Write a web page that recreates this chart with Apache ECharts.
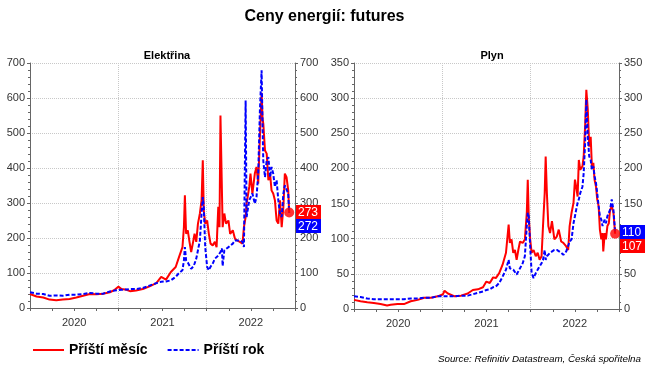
<!DOCTYPE html>
<html>
<head>
<meta charset="utf-8">
<script src="https://cdn.jsdelivr.net/npm/echarts@6/dist/echarts.min.js"></script>
<style>html,body{margin:0;padding:0;background:#fff}#c{width:649px;height:365px}</style>
</head>
<body>
<div id="c"></div>
<script>
// ---------- DATA ----------
const yearLabels = ['2020', '2021', '2022'];

const elecDates = ['2020-01-01','2020-01-28','2020-02-25','2020-03-22','2020-04-19','2020-05-16','2020-06-13','2020-07-11','2020-08-08','2020-09-05','2020-10-02','2020-10-30','2020-11-27','2020-12-17','2021-01-01','2021-01-14','2021-02-04','2021-02-18','2021-03-15','2021-04-12','2021-05-10','2021-06-07','2021-06-27','2021-07-17','2021-08-06','2021-08-26','2021-09-09','2021-09-23','2021-09-29','2021-10-03','2021-10-08','2021-10-15','2021-10-22','2021-10-29','2021-11-06','2021-11-12','2021-11-19','2021-11-26','2021-12-04','2021-12-11','2021-12-16','2021-12-20','2021-12-26','2022-01-03','2022-01-10','2022-01-17','2022-01-26','2022-02-04','2022-02-11','2022-02-18','2022-02-23','2022-02-27','2022-03-05','2022-03-08','2022-03-15','2022-03-22','2022-04-01','2022-04-08','2022-04-19','2022-04-28','2022-05-07','2022-05-18','2022-05-29','2022-06-04','2022-06-11','2022-06-15','2022-06-26','2022-07-01','2022-07-09','2022-07-19','2022-07-26','2022-08-02','2022-08-09','2022-08-16','2022-08-20','2022-08-23','2022-08-30','2022-09-06','2022-09-13','2022-09-20','2022-09-26','2022-10-03','2022-10-10','2022-10-17','2022-10-24','2022-10-31','2022-11-07','2022-11-14','2022-11-20','2022-11-27','2022-12-04','2022-12-08'];
const elecMonth = [40,33,30,24,22,24,26,30,35,40,39,41,45,52,61,54,52,48,50,54,62,71,89,81,103,117,146,174,231,322,212,222,189,160,189,212,189,241,270,308,422,279,241,250,212,184,179,189,174,289,231,550,550,231,270,241,250,212,222,198,193,189,184,231,260,298,346,384,327,384,403,355,489,615,540,527,450,441,365,384,336,327,308,250,241,308,231,289,384,374,336,273];
const elecYear = [45,41,40,35,36,35,38,38,40,43,41,41,47,50,51,52,53,54,54,57,64,71,75,76,79,89,100,108,136,174,136,130,127,112,118,127,141,165,193,270,317,289,174,117,108,118,127,141,146,150,155,160,170,120,165,168,174,178,184,193,193,193,189,174,593,260,308,308,327,298,317,384,565,679,517,420,374,422,431,374,403,384,346,365,308,270,260,327,350,355,327,272];

const gasDates = ['2020-01-01','2020-01-28','2020-02-25','2020-03-23','2020-04-20','2020-05-17','2020-06-01','2020-06-29','2020-07-26','2020-08-23','2020-09-21','2020-10-18','2020-11-15','2020-12-13','2021-01-04','2021-01-10','2021-01-24','2021-02-21','2021-03-19','2021-04-16','2021-05-07','2021-05-28','2021-06-18','2021-07-02','2021-07-16','2021-07-30','2021-08-10','2021-08-24','2021-09-07','2021-09-21','2021-10-02','2021-10-07','2021-10-14','2021-10-21','2021-10-28','2021-11-04','2021-11-11','2021-11-18','2021-11-29','2021-12-08','2021-12-16','2021-12-20','2021-12-24','2021-12-30','2022-01-05','2022-01-13','2022-01-22','2022-01-30','2022-02-07','2022-02-15','2022-02-21','2022-02-28','2022-03-04','2022-03-09','2022-03-15','2022-03-22','2022-03-30','2022-04-09','2022-04-19','2022-04-27','2022-05-07','2022-05-16','2022-05-28','2022-06-05','2022-06-11','2022-06-19','2022-06-27','2022-07-03','2022-07-08','2022-07-14','2022-07-19','2022-07-25','2022-08-03','2022-08-08','2022-08-14','2022-08-19','2022-08-25','2022-08-31','2022-09-06','2022-09-11','2022-09-17','2022-09-22','2022-09-28','2022-10-03','2022-10-09','2022-10-14','2022-10-20','2022-10-25','2022-10-28','2022-11-03','2022-11-08','2022-11-14','2022-11-20','2022-11-25','2022-12-02','2022-12-09','2022-12-16'];
const gasMonth = [13,11,9.5,8.5,7,5,6,7,7,11,13,16,16,18,21,26,22,18,19,22,27,28,31,39,37,45,44,51,63,80,120,94,99,80,84,70,84,96,94,99,137,184,132,99,80,84,75,80,70,75,118,165,217,165,118,108,125,99,103,113,96,94,89,84,118,137,151,184,174,160,212,198,203,217,260,312,284,231,245,203,208,184,174,156,146,113,99,108,82,108,99,118,122,141,146,137,107];
const gasYear = [18,17,15,14,14,14,14,14,14,15,15,16,16,18,18,18,18,18,19,19,21,23,25,27,28,31,32,37,46,56,70,58,56,56,58,49,51,58,65,75,118,137,132,89,51,44,51,56,54,65,70,84,70,75,75,80,82,84,84,82,80,77,82,84,96,99,122,132,141,151,156,165,174,193,236,298,245,217,212,198,203,189,179,165,146,132,127,118,122,127,122,132,132,141,156,141,110];

const seriesNames = ['Příští měsíc', 'Příští rok'];
// ---------- END DATA ----------

const FONT = 'Liberation Sans, Arial, sans-serif';
const RED = '#ff0000', BLUE = '#0000ff';

function toDec(s) {
  const p = s.split('-').map(Number);
  const t = Date.UTC(p[0], p[1] - 1, p[2]);
  const a = Date.UTC(p[0], 0, 1), b = Date.UTC(p[0] + 1, 0, 1);
  return p[0] + (t - a) / (b - a);
}
function pairs(dates, vals) { return dates.map((d, i) => [toDec(d), vals[i]]); }

const grids = [
  { left: 30, top: 63, width: 265, height: 245 },
  { left: 354, top: 63, width: 265, height: 246 }
];

function xAxesFor(g) {
  return [
    { type: 'value', gridIndex: g, min: 2020, max: 2023, interval: 0.25, position: 'bottom',
      axisLine: { onZero: false, lineStyle: { color: '#666', width: 1 } },
      axisTick: { show: true, length: 3, lineStyle: { color: '#666' } },
      axisLabel: { show: false }, splitLine: { show: false } },
    { type: 'category', gridIndex: g, data: yearLabels, boundaryGap: true, position: 'bottom',
      axisLine: { show: false }, axisTick: { show: false },
      axisLabel: { show: true, color: '#333', fontSize: 11, fontFamily: FONT, margin: 9 },
      splitLine: { show: true, lineStyle: { color: '#c8c8c8', type: 'dotted', width: 1 } } }
  ];
}
function yAxesFor(g, max, interval) {
  const common = {
    type: 'value', gridIndex: g, min: 0, max: max, interval: interval,
    axisLine: { show: true, lineStyle: { color: '#666', width: 1 } },
    axisTick: { show: true, length: 3, lineStyle: { color: '#666' } },
    minorTick: { show: true, splitNumber: 5, length: 2, lineStyle: { color: '#666' } },
    axisLabel: { color: '#333', fontSize: 11, fontFamily: FONT, margin: 5 }
  };
  return [
    Object.assign({}, common, { position: 'left',
      splitLine: { show: true, lineStyle: { color: '#c8c8c8', type: 'dotted', width: 1 } } }),
    Object.assign({}, common, { position: 'right', splitLine: { show: false } })
  ];
}

const xAxis = xAxesFor(0).concat(xAxesFor(1));
const yAxis = yAxesFor(0, 700, 100).concat(yAxesFor(1, 350, 50));

function lineSeries(name, data, xi, yi, color, dashed) {
  return {
    name: name, type: 'line', xAxisIndex: xi, yAxisIndex: yi, data: data,
    symbol: 'none', showSymbol: false, animation: false, z: dashed ? 3 : 2,
    lineStyle: { color: color, width: 2, type: dashed ? [4, 2] : 'solid' },
    itemStyle: { color: color }
  };
}
const elecM = pairs(elecDates, elecMonth), elecY = pairs(elecDates, elecYear);
const gasM = pairs(gasDates, gasMonth), gasY = pairs(gasDates, gasYear);

const series = [
  lineSeries(seriesNames[0], elecM, 0, 0, RED, false),
  lineSeries(seriesNames[1], elecY, 0, 0, BLUE, true),
  lineSeries(seriesNames[0], gasM, 2, 2, RED, false),
  lineSeries(seriesNames[1], gasY, 2, 2, BLUE, true),
  { name: 'endE', type: 'scatter', xAxisIndex: 0, yAxisIndex: 0, data: [elecM[elecM.length - 1]],
    symbolSize: 10, itemStyle: { color: RED }, z: 5, animation: false, silent: true },
  { name: 'endG', type: 'scatter', xAxisIndex: 2, yAxisIndex: 2, data: [gasM[gasM.length - 1]],
    symbolSize: 10, itemStyle: { color: RED }, z: 5, animation: false, silent: true }
];

const chart = echarts.init(document.getElementById('c'), null, { renderer: 'canvas' });
chart.setOption({
  backgroundColor: '#fff',
  animation: false,
  textStyle: { fontFamily: FONT },
  title: [
    { text: 'Ceny energií: futures', left: 'center', top: 4,
      textStyle: { fontSize: 16, fontWeight: 'bold', color: '#000', fontFamily: FONT } },
    { text: 'Elektřina', left: 162, top: 45, textAlign: 'center',
      textStyle: { fontSize: 11, fontWeight: 'bold', color: '#000', fontFamily: FONT } },
    { text: 'Plyn', left: 487, top: 45, textAlign: 'center',
      textStyle: { fontSize: 11, fontWeight: 'bold', color: '#000', fontFamily: FONT } },
    { text: 'Source: Refinitiv Datastream, Česká spořitelna', right: 3, top: 349,
      textStyle: { fontSize: 9.8, fontStyle: 'italic', fontWeight: 'normal', color: '#000', fontFamily: FONT } }
  ],
  legend: {
    data: seriesNames, left: 27, top: 338, itemWidth: 31, itemHeight: 14, itemGap: 19,
    itemStyle: { color: 'rgba(0,0,0,0)', borderWidth: 0, opacity: 0 },
    textStyle: { fontSize: 14, fontWeight: 'bold', color: '#000', fontFamily: FONT }
  },
  grid: grids,
  xAxis: xAxis,
  yAxis: yAxis,
  series: series
});

// end-value boxes at the right axis
function endBoxes(xi, yi, redVal, blueVal) {
  const xr = chart.convertToPixel({ xAxisIndex: xi }, 2023);
  const items = [
    { v: redVal, c: RED }, { v: blueVal, c: BLUE }
  ].sort((a, b) => b.v - a.v);
  const H = 14;
  let prev = null;
  const els = [];
  items.forEach(it => {
    let cy = chart.convertToPixel({ yAxisIndex: yi }, it.v);
    if (prev !== null && cy < prev + H) cy = prev + H;
    prev = cy;
    els.push({ type: 'rect', z: 100, shape: { x: xr + 1, y: Math.round(cy - H / 2), width: 25, height: H },
      style: { fill: it.c } });
    els.push({ type: 'text', z: 101, x: xr + 3, y: Math.round(cy) + 1,
      style: { text: String(Math.round(it.v)), fill: '#fff', font: '12px ' + FONT, verticalAlign: 'middle', align: 'left' } });
  });
  return els;
}
chart.setOption({
  graphic: endBoxes(0, 0, elecMonth[elecMonth.length - 1], elecYear[elecYear.length - 1])
    .concat(endBoxes(2, 2, gasMonth[gasMonth.length - 1], gasYear[gasYear.length - 1]))
});
</script>
</body>
</html>
